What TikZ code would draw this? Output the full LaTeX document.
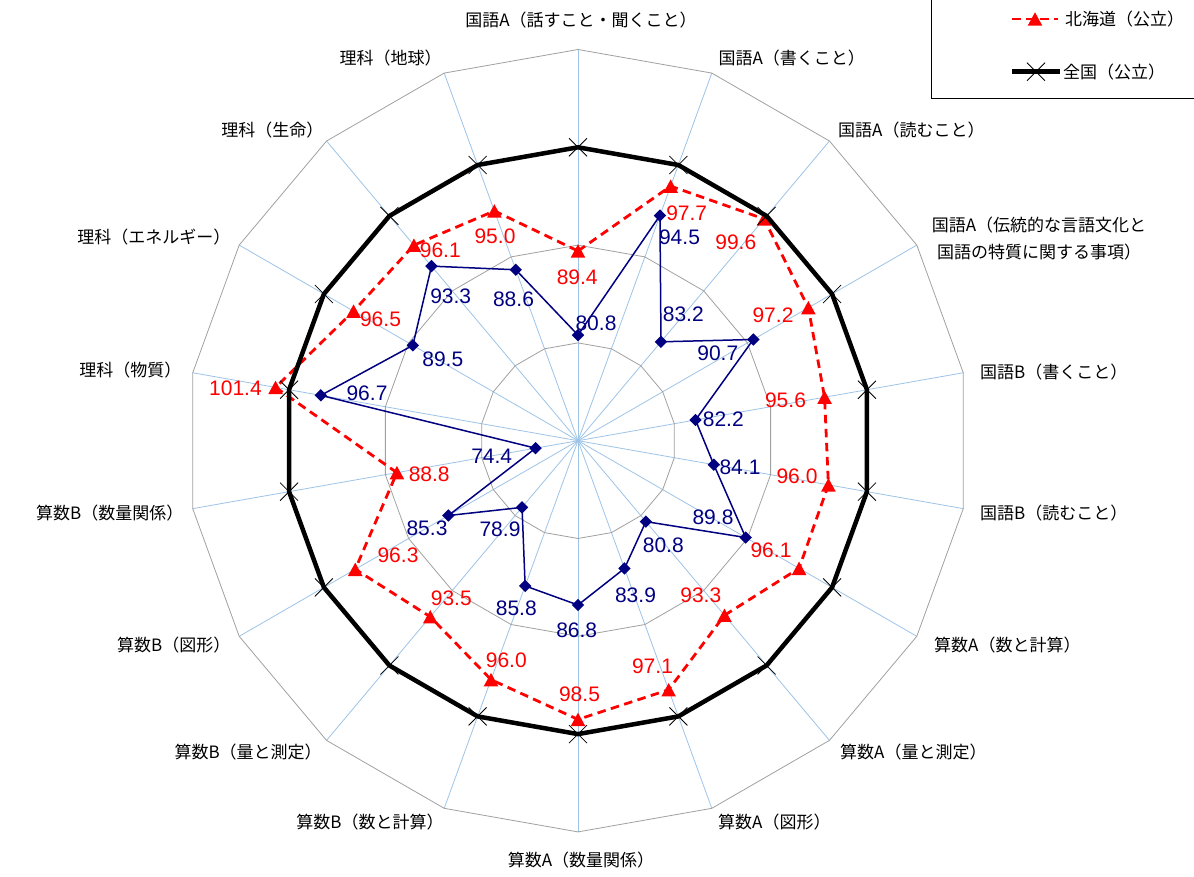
\documentclass[tikz,border=0pt]{standalone}
\usepackage{fontspec}
\setmainfont{Noto Sans CJK JP}
\newfontfamily\numfont{Liberation Sans}
\definecolor{hokred}{RGB}{255,0,0}
\definecolor{kenblue}{RGB}{0,0,128}
\definecolor{spokeblue}{RGB}{157,195,230}
\definecolor{ringgray}{RGB}{160,160,160}
\tikzset{
    ring/.style={ringgray, line width=0.8pt},
    spoke/.style={spokeblue, line width=0.8pt},
    zenline/.style={black, line width=4.5pt},
    hokline/.style={hokred, line width=2.8pt, dash pattern=on 8.5pt off 5.5pt},
    kenline/.style={kenblue, line width=1.5pt},
    cat/.style={font=\fontsize{17pt}{20pt}\selectfont, inner sep=0pt},
    hoklabel/.style={hokred, font=\numfont\fontsize{21pt}{24pt}\selectfont, inner sep=0pt},
    kenlabel/.style={kenblue, font=\numfont\fontsize{21pt}{24pt}\selectfont, inner sep=0pt},
}
\newcommand{\hokmark}[1]{\fill[hokred] (#1) ++(0,6.7) -- ++(-7.3,-13.4) -- ++(14.6,0) -- cycle;}
\newcommand{\kenmark}[1]{\fill[kenblue] (#1) ++(0,6.2) -- ++(6.2,-6.2) -- ++(-6.2,-6.2) -- ++(-6.2,6.2) -- cycle;}
\newcommand{\zenmark}[1]{\draw[black, line width=0.8pt] (#1) ++(-9,-9) -- ++(18,18) (#1) ++(-9,9) -- ++(18,-18);}
\begin{document}
    \begin{tikzpicture}[x=1pt, y=1pt]
        \useasboundingbox (-578,-435.3) rectangle (616,440.7);
        \coordinate (ctr) at (0,0);
        \foreach \i in {0,...,17}
            \draw[spoke] (ctr) -- ({90-20*\i}:391.2);
        \foreach \r in {80,90,100,110}
            \draw[ring] (90:{(\r-70)*9.78}) \foreach \i in {1,...,17} { -- ({90-20*\i}:{(\r-70)*9.78}) } -- cycle;
        \foreach \v [count=\i from 0] in {89.4,97.7,99.6,97.2,95.6,96.0,96.1,93.3,97.1,98.5,96.0,93.5,96.3,88.8,101.4,96.5,96.1,95.0}
            \coordinate (h\i) at ({90-20*\i}:{(\v-70)*9.78});
        \foreach \v [count=\i from 0] in {80.8,94.5,83.2,90.7,82.2,84.1,89.8,80.8,83.9,86.8,85.8,78.9,85.3,74.4,96.7,89.5,93.3,88.6}
            \coordinate (k\i) at ({90-20*\i}:{(\v-70)*9.78});
        \foreach \i in {0,...,17}
            \coordinate (z\i) at ({90-20*\i}:293.4);
        \draw[hokline] (h0) \foreach \i in {1,...,17} { -- (h\i) } -- cycle;
        \foreach \i in {0,...,17} { \hokmark{h\i} }
        \draw[zenline] (z0) \foreach \i in {1,...,17} { -- (z\i) } -- cycle;
        \foreach \i in {0,...,17} { \zenmark{z\i} }
        \draw[kenline] (k0) \foreach \i in {1,...,17} { -- (k\i) } -- cycle;
        \foreach \i in {0,...,17} { \kenmark{k\i} }
        \foreach \v/\x/\y [count=\i from 0] in {89.4/-0.8/163.2, 97.7/108.7/227.4, 99.6/157.8/198.2, 97.2/195/125.4, 95.6/207.5/40.7, 96.0/219/-35.3, 96.1/193/-109.3, 93.3/122.8/-154.3, 97.1/74.5/-226, 98.5/1.5/-253.6, 96.0/-71.7/-219.3, 93.5/-126.7/-157.3, 96.3/-180/-115, 88.8/-148.8/-33.1, 101.4/-342.5/52.4, 96.5/-197.5/121.5, 96.1/-137.7/190.7, 95.0/-83/204}
            \node[hoklabel] (hl\i) at (\x,\y) {\v};
        \foreach \v/\x/\y [count=\i from 0] in {80.8/18/117, 94.5/101.5/203.2, 83.2/105.3/126.7, 90.7/139.8/87.4, 82.2/145.3/21.5, 84.1/162/-26.8, 89.8/135/-76.3, 80.8/85.3/-104.3, 83.9/57.5/-154.3, 86.8/-1.3/-189.3, 85.8/-61.7/-167.6, 78.9/-78/-88.8, 85.3/-151/-87.3, 74.4/-86.3/-15.8, 96.7/-211/47.4, 89.5/-135.2/81.5, 93.3/-127.3/144.5, 88.6/-64.5/141.7}
            \node[kenlabel] (kl\i) at (\x,\y) {\v};
        \node[cat] (c0) at (3,420.7) {国語A（話すこと・聞くこと）};
        \node[cat, anchor=west] (c1) at (140.3,382.4) {国語A（書くこと）};
        \node[cat, anchor=west] (c2) at (260,310.7) {国語A（読むこと）};
        \node[cat, anchor=west, align=center, font=\fontsize{17pt}{27pt}\selectfont] (c3) at (353.7,202.3) {国語A（伝統的な言語文化と\\国語の特質に関する事項）};
        \node[cat, anchor=west] (c4) at (402,69) {国語B（書くこと）};
        \node[cat, anchor=west] (c5) at (402,-72.6) {国語B（読むこと）};
        \node[cat, anchor=west] (c6) at (356,-204.3) {算数A（数と計算）};
        \node[cat, anchor=west] (c7) at (262,-311) {算数A（量と測定）};
        \node[cat, anchor=west] (c8) at (140,-381) {算数A（図形）};
        \node[cat] (c9) at (3,-419.3) {算数A（数量関係）};
        \node[cat, anchor=east] (c10) at (-134.2,-381) {算数B（数と計算）};
        \node[cat, anchor=east] (c11) at (-256.1,-311) {算数B（量と測定）};
        \node[cat, anchor=east] (c12) at (-347.5,-204.3) {算数B（図形）};
        \node[cat, anchor=east] (c13) at (-394.5,-72.6) {算数B（数量関係）};
        \node[cat, anchor=east] (c14) at (-396.5,70.7) {理科（物質）};
        \node[cat, anchor=east] (c15) at (-347.5,203.7) {理科（エネルギー）};
        \node[cat, anchor=east] (c16) at (-254.5,310.7) {理科（生命）};
        \node[cat, anchor=east] (c17) at (-136.2,382.4) {理科（地球）};
        \draw[line width=1.3pt] (353.7,342.4) rectangle (650,460);
        \coordinate (lh1) at (434,421.7);
        \coordinate (lh2) at (480,421.7);
        \coordinate (lh) at (457,421.7);
        \coordinate (lz1) at (434,369);
        \coordinate (lz2) at (482,369);
        \coordinate (lz) at (458,369);
        \draw[hokline] (lh1) -- (lh2);
        \hokmark{lh}
        \draw[zenline] (lz1) -- (lz2);
        \zenmark{lz}
        \node[cat, anchor=west] (leg1) at (487,421.7) {北海道（公立）};
        \node[cat, anchor=west] (leg2) at (485,369) {全国（公立）};
    \end{tikzpicture}
\end{document}
